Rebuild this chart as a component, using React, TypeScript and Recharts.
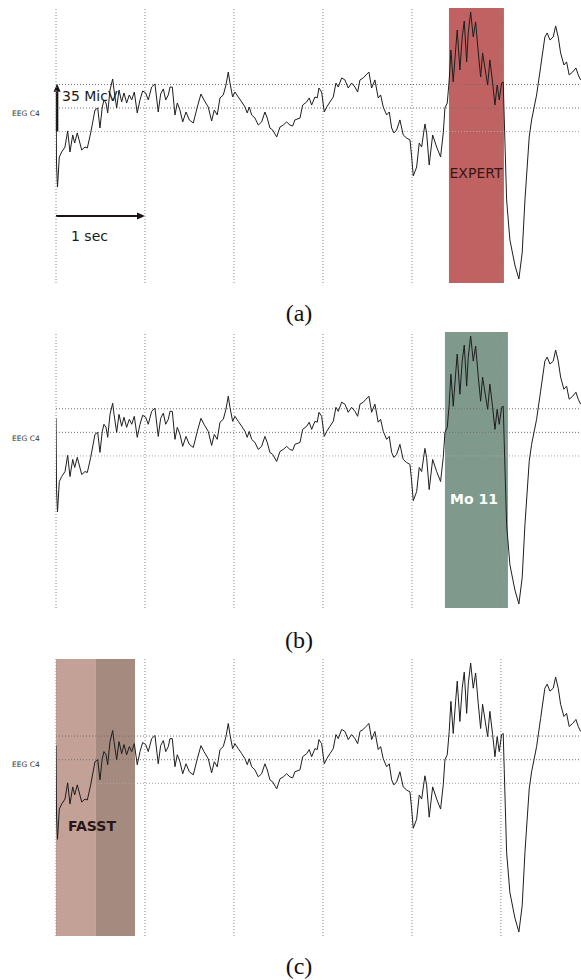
import React from "react";
import {
  LineChart,
  Line,
  XAxis,
  YAxis,
  ReferenceLine,
  ReferenceArea,
} from "recharts";

// EEG C4 trace, time in seconds, amplitude in µV
const times = [
  0, 0.006, 0.017, 0.037, 0.064, 0.101, 0.131, 0.157, 0.188, 0.21, 0.239, 0.289,
  0.326, 0.352, 0.39, 0.438, 0.469, 0.494, 0.52, 0.539, 0.562, 0.581, 0.607,
  0.637, 0.652, 0.682, 0.708, 0.738, 0.764, 0.794, 0.824, 0.851, 0.88, 0.913,
  0.944, 0.974, 1.008, 1.037, 1.075, 1.112, 1.149, 1.176, 1.206, 1.233, 1.262,
  1.281, 1.307, 1.337, 1.363, 1.393, 1.424, 1.461, 1.498, 1.543, 1.588, 1.629,
  1.663, 1.711, 1.749, 1.779, 1.812, 1.843, 1.88, 1.91, 1.936, 1.955, 1.985,
  2.011, 2.048, 2.087, 2.124, 2.149, 2.172, 2.199, 2.236, 2.273, 2.311, 2.348,
  2.374, 2.404, 2.435, 2.48, 2.517, 2.554, 2.592, 2.629, 2.66, 2.685, 2.742,
  2.772, 2.817, 2.846, 2.873, 2.91, 2.936, 2.955, 2.985, 3.015, 3.042, 3.079,
  3.116, 3.146, 3.172, 3.21, 3.247, 3.284, 3.322, 3.36, 3.39, 3.416, 3.453,
  3.483, 3.517, 3.547, 3.584, 3.621, 3.648, 3.678, 3.716, 3.745, 3.772, 3.798,
  3.828, 3.865, 3.902, 3.94, 3.978, 3.997, 4.015, 4.053, 4.082, 4.109, 4.146,
  4.165, 4.194, 4.233, 4.278, 4.322, 4.352, 4.371, 4.397, 4.419, 4.438, 4.464,
  4.491, 4.509, 4.539, 4.565, 4.588, 4.615, 4.633, 4.66, 4.689, 4.716, 4.745,
  4.772, 4.794, 4.824, 4.851, 4.876, 4.907, 4.933, 4.958, 4.981, 5.008, 5.026,
  5.037, 5.064, 5.101, 5.157, 5.202, 5.239, 5.27, 5.318, 5.345, 5.401, 5.446,
  5.494, 5.52, 5.551, 5.588, 5.615, 5.644, 5.671, 5.708, 5.738, 5.767, 5.806,
  5.843, 5.869, 5.896,
];

const microvolts = [
  10.4, -42.5, -58.9, -36.5, -32.8, -29.1, -17.1, -32.8, -20.1, -26.1, -18.6,
  -31.3, -29.1, -29.8, -18.6, -1.5, 0, -14.9, 0.7, 6.0, 3.7, -3.7, 13.4, 21.6,
  13.4, 0, 13.4, 4.5, 11.2, 3.7, 9.7, 6.0, 11.9, -3.7, 6.0, 12.7, 11.2, 6.0,
  15.6, 17.9, -3.0, 10.4, 14.2, 6.0, 9.7, 15.6, 15.6, -5.2, 3.7, -1.5, -10.4,
  -3.0, -8.9, -11.2, 0.7, 10.4, 6.0, 0.7, -9.7, -1.5, -5.2, 7.5, 9.7, 17.1, 26.8,
  18.6, 8.2, 11.9, 8.2, 4.5, 0.7, -3.7, 0.7, -5.2, -7.5, -12.7, -10.4, -3.0,
  -7.5, -14.9, -16.4, -21.6, -14.2, -12.7, -10.4, -12.7, -13.4, -8.9, -7.5, 2.2,
  4.5, 7.5, 2.2, 8.2, 7.5, 14.9, 11.9, -3.0, 0.7, 4.5, 8.2, 18.6, 15.6, 22.4,
  20.9, 14.9, 18.6, 15.6, 11.9, 20.9, 22.4, 24.6, 26.8, 14.9, 20.9, 7.5, 9.7,
  0.7, -5.2, -3.0, -14.9, -18.6, -16.4, -8.9, -20.1, -22.4, -23.8, -36.5, -50.7,
  -44.0, -26.1, -29.1, -11.9, -18.6, -42.5, -20.1, -29.1, -36.5, -18.6, 0, 3.7,
  20.9, 43.2, 19.4, 43.2, 58.1, 28.3, 52.9, 64.8, 34.3, 55.9, 71.5, 52.9, 64.1,
  41.7, 23.1, 41.0, 28.3, 17.1, 35.8, 18.6, 2.2, 17.1, 6.0, 18.6, 19.4, -6.7,
  -68.5, -98.3, -117.0, -127.4, -108.0, -68.5, -21.6, -8.9, 9.7, 30.5, 52.9,
  55.9, 50.7, 52.9, 61.1, 52.9, 41.0, 32.0, 34.3, 24.6, 26.8, 29.8, 24.6, 20.9,
];

const secondTicks = [0, 1, 2, 3, 4, 5];
const levelLines = [17.5, 0, -17.5];
const panelLabels = ["(a)", "(b)", "(c)"];

// detections: [start s, end s]
const expertSpan = [4.416, 5.034];
const mo11Span = [4.371, 5.079];
const fasstSpans = [
  [0, 0.449],
  [0.449, 0.888],
];

const rows = times.map((t, i) => ({ t, v: microvolts[i] }));

const sans = "'DejaVu Sans', Verdana, sans-serif";

function arrowShape(props: any) {
  const { x1, y1, x2, y2, stroke, strokeWidth } = props;
  const a = Math.atan2(y2 - y1, x2 - x1);
  const len = 8;
  const w = 3.5;
  const bx = x2 - len * Math.cos(a);
  const by = y2 - len * Math.sin(a);
  const px = -Math.sin(a) * w;
  const py = Math.cos(a) * w;
  return (
    <g>
      <line x1={x1} y1={y1} x2={bx} y2={by} stroke={stroke} strokeWidth={strokeWidth} />
      <polygon
        points={`${x2},${y2} ${bx + px},${by + py} ${bx - px},${by - py}`}
        fill={stroke}
      />
    </g>
  );
}

function Txt({
  x,
  y,
  size,
  children,
  color = "#222",
  bold = false,
  font = sans,
  center = false,
}: any) {
  return (
    <div
      style={{
        position: "absolute",
        left: x,
        top: y - size * 0.6,
        fontSize: size,
        lineHeight: `${size * 1.2}px`,
        fontFamily: font,
        fontWeight: bold ? "bold" : "normal",
        color,
        whiteSpace: "nowrap",
        transform: center ? "translateX(-50%)" : undefined,
      }}
    >
      {children}
    </div>
  );
}

function Panel({
  top,
  height,
  children,
}: {
  top: number;
  height: number;
  children?: React.ReactNode;
}) {
  return (
    <div style={{ position: "absolute", left: 0, top, width: 581, height }}>
      <LineChart
        width={581}
        height={height}
        data={rows}
        margin={{ top: 0, right: 0, bottom: 0, left: 56 }}
      >
        <XAxis type="number" dataKey="t" domain={[0, 5.9]} hide allowDataOverflow />
        <YAxis type="number" domain={[-130.4, 74.5]} hide allowDataOverflow />
        {children}
        {secondTicks.map((s) => (
          <ReferenceLine
            key={"s" + s}
            x={s}
            stroke="#8a8a8a"
            strokeDasharray="1 2"
          />
        ))}
        {levelLines.map((l, i) => (
          <ReferenceLine
            key={"l" + l}
            y={l}
            stroke={i === 2 ? "#a8a8a8" : "#707070"}
            strokeDasharray="1 2"
          />
        ))}
        <Line
          type="linear"
          dataKey="v"
          stroke="#1e1e1e"
          strokeWidth={1}
          dot={false}
          activeDot={false}
          isAnimationActive={false}
        />
      </LineChart>
    </div>
  );
}

export default function App() {
  return (
    <div
      style={{
        position: "absolute",
        left: 0,
        top: 0,
        width: 581,
        height: 980,
        background: "#fff",
        overflow: "hidden",
      }}
    >
      {/* (a) expert scoring */}
      <Panel top={8} height={275}>
        <ReferenceArea
          x1={expertSpan[0]}
          x2={expertSpan[1]}
          fill="#c06262"
          fillOpacity={1}
          stroke="none"
        />
        <ReferenceLine
          segment={[
            { x: 0.012, y: -17.5 },
            { x: 0.012, y: 18 },
          ]}
          stroke="#1a1212"
          strokeWidth={2.5}
          shape={arrowShape}
        />
        <ReferenceLine
          segment={[
            { x: 0, y: -80.5 },
            { x: 1, y: -80.5 },
          ]}
          stroke="#1a1212"
          strokeWidth={2}
          shape={arrowShape}
        />
      </Panel>

      {/* (b) method Mo 11 */}
      <Panel top={332} height={276}>
        <ReferenceArea
          x1={mo11Span[0]}
          x2={mo11Span[1]}
          fill="#7f9a8c"
          fillOpacity={1}
          stroke="none"
        />
      </Panel>

      {/* (c) FASST */}
      <Panel top={659} height={277}>
        <ReferenceArea
          x1={fasstSpans[0][0]}
          x2={fasstSpans[0][1]}
          fill="#c4a196"
          fillOpacity={1}
          stroke="none"
        />
        <ReferenceArea
          x1={fasstSpans[1][0]}
          x2={fasstSpans[1][1]}
          fill="#a58a7f"
          fillOpacity={1}
          stroke="none"
        />
      </Panel>

      <Txt x={12} y={113} size={7.5} color="#333">EEG C4</Txt>
      <Txt x={12} y={438} size={7.5} color="#333">EEG C4</Txt>
      <Txt x={12} y={764} size={7.5} color="#333">EEG C4</Txt>

      <Txt x={62} y={96} size={14} color="#1a1a1a">35 MicV</Txt>
      <Txt x={71} y={236} size={14} color="#1a1a1a">1 sec</Txt>
      <Txt x={476} y={173} size={14} color="#3a1414" center>EXPERT</Txt>
      <Txt x={474} y={499} size={14} color="#ffffff" bold center>Mo 11</Txt>
      <Txt x={92} y={826} size={14} color="#2a1616" bold center>FASST</Txt>

      {panelLabels.map((p, i) => (
        <Txt
          key={p}
          x={299}
          y={[313, 640, 966][i]}
          size={24}
          color="#111"
          font="'Liberation Serif', 'DejaVu Serif', serif"
          center
        >
          {p}
        </Txt>
      ))}
    </div>
  );
}
